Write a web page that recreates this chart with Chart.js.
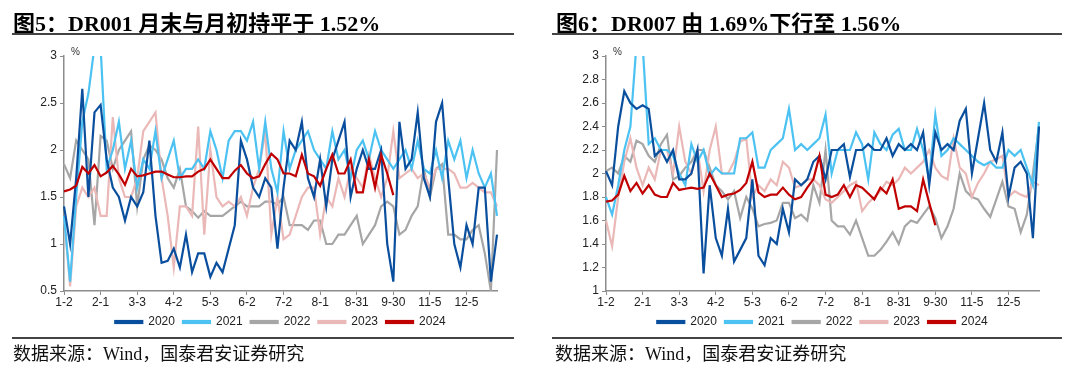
<!DOCTYPE html>
<html>
<head>
<meta charset="utf-8">
<script src="https://cdn.jsdelivr.net/npm/chart.js@4.4.1/dist/chart.umd.min.js"></script>
<style>
  body { margin: 0; background: #fff; }
  #wrap { position: relative; width: 1080px; height: 372px; overflow: hidden; }
  .panel { position: absolute; top: 0; width: 540px; height: 372px; }
  .panel canvas { position: absolute; left: 0; top: 0; }
  .title { position: absolute; top: 5px; font: bold 22px "Liberation Serif", "Noto Sans CJK SC", serif; color: #000; white-space: nowrap; }
  .rule { position: absolute; height: 2px; background: #444; }
  .source { position: absolute; top: 339px; font: 18px "Liberation Serif", "Noto Sans CJK SC", serif; color: #111; white-space: nowrap; }
</style>
</head>
<body>
<div id="wrap">
  <div class="panel" style="left:0">
    <canvas id="chart1" width="540" height="372"></canvas>
    <div class="title" style="left:13px">图5：DR001 月末与月初持平于 1.52%</div>
    <div class="rule" style="left:12px;top:33px;width:502px"></div>
    <div class="rule" style="left:12px;top:337px;width:502px;height:1.5px"></div>
    <div class="source" style="left:13px">数据来源：Wind，国泰君安证券研究</div>
  </div>
  <div class="panel" style="left:540px">
    <canvas id="chart2" width="540" height="372"></canvas>
    <div class="title" style="left:16px">图6：DR007 由 1.69%下行至 1.56%</div>
    <div class="rule" style="left:12px;top:33px;width:510px"></div>
    <div class="rule" style="left:12px;top:337px;width:510px;height:1.5px"></div>
    <div class="source" style="left:15px">数据来源：Wind，国泰君安证券研究</div>
  </div>
</div>
<script>
// x axis: one tick label every 6 points
const xTickLabels = ["1-2", "2-1", "3-3", "4-2", "5-3", "6-2", "7-2", "8-1", "8-31", "9-30", "11-5", "12-5"];
const pointsPerTick = 6;
const pointCount = 72;

const years = ["2020", "2021", "2022", "2023", "2024"];
const yearColors = ["#0a4f9e", "#4cc2f2", "#a6a6a6", "#ebb8b8", "#c00000"];
const drawOrder = [1, 2, 4, 3, 0];

// DR001 (%)
const dr001_2020 = [1.4, 1.0, 1.7, 2.65, 1.5, 2.4, 2.48, 1.9, 1.6, 1.5, 1.25, 1.5, 1.4, 1.55, 2.1, 1.3, 0.8, 0.82, 0.95, 0.75, 1.1, 0.7, 0.9, 0.9, 0.65, 0.8, 0.7, 0.95, 1.2, 2.1, 1.9, 1.6, 1.5, 1.7, 1.6, 0.95, 1.6, 2.1, 2.0, 2.3, 1.7, 1.5, 1.9, 1.4, 1.9, 2.1, 2.3, 1.5, 1.8, 2.0, 1.8, 1.8, 2.0, 1.0, 0.6, 2.3, 1.8, 1.9, 2.4, 1.7, 1.5, 2.3, 2.5, 1.7, 1.0, 0.75, 1.2, 1.0, 1.6, 1.6, 0.6, 1.1];
const dr001_2021 = [1.3, 0.6, 1.5, 2.3, 2.6, 3.1, 3.1, 1.8, 2.0, 2.3, 1.8, 2.1, 1.6, 1.9, 1.8, 2.2, 1.7, 1.9, 2.1, 1.7, 1.8, 1.8, 1.9, 1.8, 2.2, 2.0, 1.7, 2.1, 2.2, 2.2, 2.1, 2.3, 1.8, 2.3, 1.8, 1.55, 2.2, 1.8, 2.0, 2.1, 2.2, 2.0, 1.9, 1.8, 2.2, 1.9, 2.0, 1.7, 2.0, 2.1, 1.9, 2.2, 2.0, 1.9, 1.8, 1.9, 2.0, 1.8, 2.1, 1.8, 1.75, 2.0, 1.7, 2.1, 1.9, 2.1, 1.7, 2.0, 1.75, 1.6, 1.75, 1.3];
const dr001_2022 = [1.85, 1.7, 2.1, 2.0, 1.9, 1.2, 2.15, 2.1, 1.8, 2.0, 2.1, 2.2, 1.4, 1.9, 2.05, 2.0, 1.9, 1.7, 1.6, 1.8, 1.4, 1.35, 1.28, 1.35, 1.3, 1.3, 1.3, 1.35, 1.4, 1.45, 1.4, 1.4, 1.4, 1.45, 1.45, 1.42, 1.5, 1.2, 1.2, 1.2, 1.15, 1.25, 1.25, 1.0, 1.0, 1.1, 1.1, 1.2, 1.3, 1.0, 1.1, 1.2, 1.4, 1.45, 1.4, 1.1, 1.15, 1.3, 1.4, 1.8, 1.5, 1.8, 1.85, 1.1, 1.1, 1.05, 1.05, 1.15, 1.2, 0.9, 0.5, 2.0];
const dr001_2023 = [1.3, 0.55, 1.4, 1.6, 1.5, 1.6, 1.3, 1.3, 2.35, 1.7, 1.5, 1.5, 1.7, 2.2, 2.3, 2.4, 1.7, 1.3, 0.75, 1.4, 1.4, 1.3, 2.25, 1.1, 2.0, 1.5, 1.4, 1.45, 1.4, 1.5, 1.3, 1.6, 1.8, 2.2, 1.1, 1.5, 1.05, 1.1, 1.3, 1.5, 1.6, 1.6, 1.1, 1.5, 1.4, 1.7, 1.5, 1.8, 1.7, 1.6, 1.95, 1.7, 1.5, 1.7, 2.2, 1.7, 1.75, 1.8, 1.7, 1.75, 1.6, 1.8, 1.8, 1.8, 1.75, 1.6, 1.6, 1.65, 1.6, 1.55, 1.55, 1.4];
const dr001_2024 = [1.56, 1.58, 1.62, 1.82, 1.75, 1.84, 1.72, 1.76, 1.83, 1.74, 1.63, 1.8, 1.72, 1.73, 1.75, 1.77, 1.77, 1.74, 1.71, 1.71, 1.72, 1.72, 1.77, 1.8, 1.9, 1.8, 1.7, 1.7, 1.78, 1.84, 1.75, 1.7, 1.72, 1.85, 1.96, 1.9, 1.75, 1.75, 1.72, 1.95, 1.75, 1.72, 1.62, 1.8, 1.95, 1.75, 1.75, 1.9, 1.55, 1.55, 1.9, 1.6, 1.95, 1.75, 1.52];

// DR007 (%)
const dr007_2020 = [2.02, 1.9, 2.4, 2.7, 2.6, 2.55, 2.58, 2.55, 2.15, 2.2, 2.1, 2.2, 1.95, 1.95, 2.0, 2.2, 1.15, 1.9, 1.45, 1.3, 1.7, 1.25, 1.35, 1.45, 1.95, 1.3, 1.22, 1.45, 1.4, 1.7, 1.5, 1.95, 1.9, 1.95, 2.1, 2.15, 1.95, 2.2, 2.2, 2.25, 1.97, 2.2, 2.2, 2.25, 2.2, 2.2, 2.3, 2.15, 2.25, 2.2, 2.25, 2.2, 2.35, 1.9, 2.35, 2.2, 2.25, 2.2, 2.45, 2.55, 2.0, 2.3, 2.6, 2.2, 2.1, 2.35, 1.8, 2.05, 2.1, 2.0, 1.45, 2.4];
const dr007_2021 = [1.8, 1.65, 1.9, 2.2, 2.4, 3.1, 3.1, 2.25, 2.3, 2.2, 2.2, 2.15, 2.0, 1.9, 2.25, 2.1, 2.2, 1.98, 2.05, 2.0, 2.0, 2.0, 2.3, 2.3, 2.35, 2.05, 2.05, 2.2, 2.25, 2.3, 2.55, 2.2, 2.25, 2.2, 2.25, 2.3, 2.5, 2.0, 2.2, 2.2, 2.2, 2.35, 2.25, 1.95, 2.35, 2.25, 2.2, 2.33, 2.38, 2.2, 2.2, 2.38, 2.2, 1.95, 2.5, 2.15, 2.2, 2.3, 2.25, 2.2, 2.15, 2.1, 2.07, 2.1, 2.05, 2.05, 2.2, 2.15, 2.2, 2.05, 1.9, 2.44];
const dr007_2022 = [2.02, 2.05, 2.0, 2.15, 2.1, 2.28, 2.25, 2.15, 2.1, 2.25, 2.33, 1.95, 1.98, 2.05, 2.1, 2.2, 2.2, 2.05, 1.9, 1.85, 1.78, 1.85, 1.62, 1.8, 1.7, 1.55, 1.57, 1.58, 1.6, 1.75, 1.75, 1.62, 1.65, 1.6, 1.9, 1.75, 2.2, 1.6, 1.55, 1.55, 1.48, 1.6, 1.45, 1.3, 1.3, 1.35, 1.42, 1.5, 1.4, 1.55, 1.6, 1.58, 1.65, 1.72, 1.62, 1.45, 1.55, 1.7, 2.0, 1.85, 1.8, 1.78, 1.7, 1.63, 1.78, 1.93, 1.72, 1.7, 1.5, 1.65, 2.0, 2.4];
const dr007_2023 = [1.6, 1.38, 1.8, 2.1, 2.3, 2.05, 1.9, 2.05, 1.95, 2.2, 2.2, 2.0, 2.4, 2.1, 2.0, 2.2, 1.85, 2.2, 2.4, 2.0, 2.0, 2.1, 2.27, 2.3, 1.8, 1.9, 1.85, 1.95, 1.9, 2.1, 2.05, 1.88, 1.9, 1.95, 1.95, 1.9, 1.78, 1.75, 1.8, 1.85, 1.9, 1.93, 1.68, 1.75, 1.8, 1.85, 1.93, 1.9, 1.95, 2.05, 2.0, 2.05, 2.1, 2.2, 2.05, 1.98, 1.95, 2.3, 2.05, 2.0, 1.8, 1.92, 2.0, 2.1, 2.12, 2.15, 1.8, 1.85, 1.82, 1.8, 1.93, 1.9];
const dr007_2024 = [1.76, 1.77, 1.82, 1.98, 1.85, 1.92, 1.83, 1.9, 1.82, 1.8, 1.8, 1.92, 1.86, 1.87, 1.88, 1.87, 1.88, 2.0, 1.9, 1.8, 1.82, 1.83, 1.86, 1.92, 2.1, 1.84, 1.8, 1.82, 1.82, 1.88, 1.82, 1.78, 1.8, 1.88, 1.95, 2.15, 1.82, 1.8, 1.82, 1.9, 1.8, 1.9, 1.88, 1.83, 1.78, 1.88, 1.83, 1.95, 1.7, 1.72, 1.72, 1.68, 1.95, 1.75, 1.56];

// category labels: tick label on every 6th point, blank between
const categories = [];
for (let i = 0; i < pointCount; i++) {
  categories.push(i % pointsPerTick === 0 ? xTickLabels[i / pointsPerTick] : "");
}

const tickFont = { family: "'Liberation Sans', Arial, sans-serif", size: 12 };
const axisColor = "#8c8c8c";

// small "%" unit above the y axis
const unitLabel = {
  id: "unitLabel",
  afterDraw(chart) {
    const c = chart.ctx;
    c.save();
    c.font = "10px 'Liberation Sans', Arial, sans-serif";
    c.fillStyle = "#333";
    c.textBaseline = "middle";
    c.fillText("%", chart.chartArea.left + 7, chart.chartArea.top - 4);
    c.restore();
  }
};

function makeChart(id, series, yMin, yMax, yStep, yAxisWidth, rightPad) {
  const datasets = series.map((data, k) => ({
    label: years[k],
    data: data,
    borderColor: yearColors[k],
    backgroundColor: yearColors[k],
    borderWidth: 2.2,
    pointRadius: 0,
    tension: 0,
    order: drawOrder[k]
  }));

  return new Chart(document.getElementById(id), {
    type: "line",
    data: { labels: categories, datasets: datasets },
    options: {
      responsive: false,
      animation: false,
      devicePixelRatio: 1,
      layout: { padding: { left: 0, right: rightPad, top: 56, bottom: 34 } },
      plugins: {
        legend: {
          position: "bottom",
          fullSize: false,
          labels: {
            boxWidth: 27,
            boxHeight: 2,
            padding: 8,
            color: "#222",
            font: tickFont,
            sort: (a, b) => a.datasetIndex - b.datasetIndex
          }
        },
        tooltip: { enabled: false }
      },
      scales: {
        x: {
          type: "category",
          offset: false,
          grid: { drawOnChartArea: false, drawTicks: true, tickLength: 4, color: axisColor },
          border: { color: axisColor, width: 1.5 },
          ticks: {
            autoSkip: false,
            maxRotation: 0,
            color: "#222",
            font: tickFont,
            padding: 0,
            callback: function (value, index) {
              const lbl = categories[index];
              return lbl === "" ? null : lbl;
            }
          },
          afterFit: (s) => { s.height = 17; }
        },
        y: {
          min: yMin,
          max: yMax,
          grid: { drawOnChartArea: false, drawTicks: true, tickLength: 4, color: axisColor },
          border: { color: axisColor, width: 1.5 },
          ticks: {
            stepSize: yStep,
            color: "#222",
            font: tickFont,
            padding: 3,
            callback: (v) => String(+v.toFixed(1))
          },
          afterFit: (s) => { s.width = yAxisWidth; }
        }
      }
    },
    plugins: [unitLabel]
  });
}

makeChart("chart1", [dr001_2020, dr001_2021, dr001_2022, dr001_2023, dr001_2024], 0.5, 3, 0.5, 64, 43);
makeChart("chart2", [dr007_2020, dr007_2021, dr007_2022, dr007_2023, dr007_2024], 1, 3, 0.2, 66, 41);
</script>
</body>
</html>
